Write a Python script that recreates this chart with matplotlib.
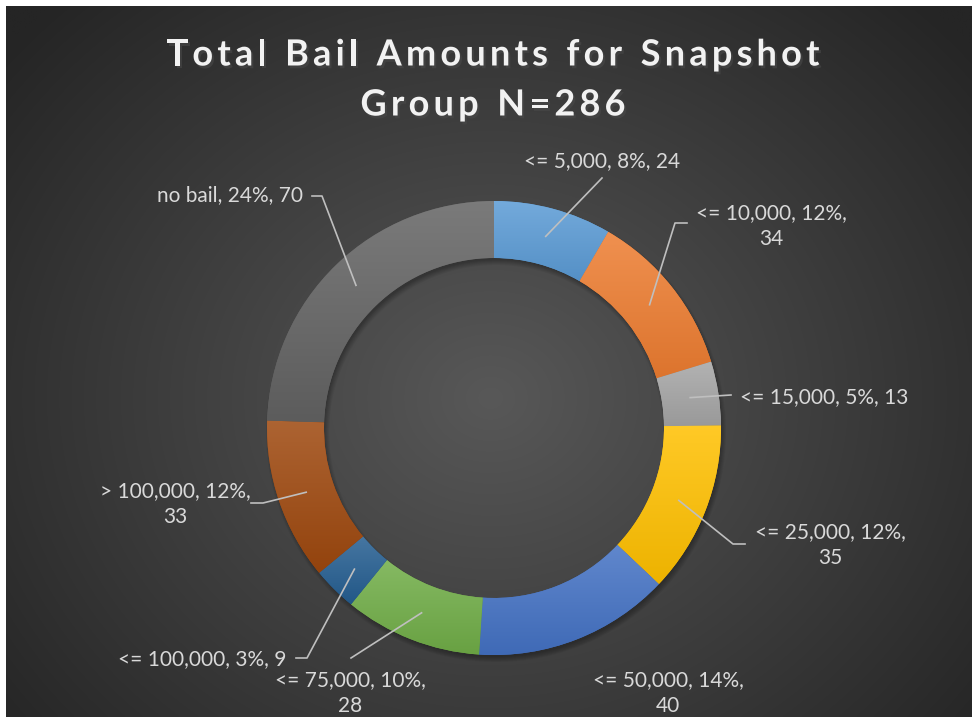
import numpy as np
import matplotlib
matplotlib.use('Agg')
import matplotlib.pyplot as plt
import matplotlib.colors as mcolors
import matplotlib.patheffects as pe

# bail categories and counts
categories = ['<= 5,000', '<= 10,000', '<= 15,000', '<= 25,000', '<= 50,000',
              '<= 75,000', '<= 100,000', '> 100,000', 'no bail']
counts = [24, 34, 13, 35, 40, 28, 9, 33, 70]
colors = ['#5B9BD5', '#ED7D31', '#A5A5A5', '#FFC000', '#4472C4',
          '#70AD47', '#255E91', '#9E480E', '#636363']
title_lines = ['Total Bail Amounts for Snapshot', 'Group N=286']

W, H = 972, 717
# label layout in pixel coords (x, y from top), leader waypoints
label_pos = [(602, 161), (771, 226), (824, 397), (830, 545), (668, 693),
             (350, 693), (202, 659), (175, 504), (230, 195)]
leader_pts = [[(602, 178)],
              [(675, 223), (687, 223)],
              [(731, 395)],
              [(733, 544), (745, 544)],
              None,
              [(351, 658)],
              [(307, 658), (296, 658)],
              [(263, 503), (251, 503)],
              [(322, 196), (312, 196)]]
two_line = [False, True, False, True, True, True, False, True, False]

cx, cy, r_out, r_in = 494, 428, 227, 170

fig = plt.figure(figsize=(W / 100, H / 100), dpi=100)
fig.patch.set_facecolor('white')

# background with radial gradient
bg = fig.add_axes([6 / W, 0, 1 - 6 / W, 1 - 6 / H])
bg.set_axis_off()
yy, xx = np.mgrid[0:300, 0:400]
d = np.sqrt(((xx - 200) / 260) ** 2 + ((yy - 165) / 230) ** 2)
d = np.clip(d, 0, 1)
c_in = np.array([0x58, 0x58, 0x58]) / 255
c_out = np.array([0x25, 0x25, 0x25]) / 255
img = c_in[None, None, :] * (1 - d[..., None]) + c_out[None, None, :] * d[..., None]
bg.imshow(img, aspect='auto', extent=[0, 1, 0, 1], interpolation='bilinear')

ax = fig.add_axes([0, 0, 1, 1])
ax.set_axis_off()
wedges, _ = ax.pie(counts, colors=colors, startangle=90, counterclock=False,
                   radius=r_out, center=(cx, H - cy),
                   wedgeprops=dict(width=r_out - r_in, linewidth=0))
ax.set_xlim(0, W)
ax.set_ylim(0, H)
ax.set_aspect('equal')
ax.patch.set_alpha(0)

# soft shadow for the ring
for k in range(6):
    sh = matplotlib.patches.Wedge((cx + 2, H - cy - 4), r_out + 3 - k, 0, 360,
                                  width=r_out - r_in + 6 - 2 * k,
                                  facecolor='black', alpha=0.05, lw=0, zorder=0)
    ax.add_patch(sh)

# gradient fill per wedge (lighter at top)
for w, c in zip(wedges, colors):
    base = np.array(mcolors.to_rgb(c))
    top = base + (1 - base) * 0.15
    bot = base * 0.93
    bb = w.get_path().get_extents()
    t = np.linspace(0, 1, 100)[:, None]
    grad = top[None, :] * (1 - t) + bot[None, :] * t
    grad = np.repeat(grad[:, None, :], 2, axis=1)
    im = ax.imshow(grad, extent=[bb.x0, bb.x1, bb.y0, bb.y1], aspect='auto',
                   zorder=2, interpolation='bilinear')
    im.set_clip_path(w)
    w.set_zorder(1)
ax.set_xlim(0, W)
ax.set_ylim(0, H)

total = sum(counts)
angle = 90.0
txt_col = '#D9D9D9'
for i, (cat, n) in enumerate(zip(categories, counts)):
    span = n / total * 360
    mid = np.deg2rad(angle - span / 2)
    angle -= span
    r_mid = (r_out + r_in) / 2
    sx, sy = cx + r_mid * np.cos(mid), (H - cy) + r_mid * np.sin(mid)
    pct = int(round(n / total * 100))
    if two_line[i]:
        lab = '%s, %d%%,\n%d' % (cat, pct, n)
    else:
        lab = '%s, %d%%, %d' % (cat, pct, n)
    tx, ty = label_pos[i]
    ax.text(tx, H - ty, lab, ha='center', va='center', color=txt_col,
            fontsize=15, family='Lato', linespacing=1.35, zorder=5)
    if leader_pts[i] is not None:
        xs = [sx] + [p[0] for p in leader_pts[i]]
        ys = [sy] + [H - p[1] for p in leader_pts[i]]
        ax.plot(xs, ys, color='#BFBFBF', lw=1.2, zorder=4)

# title, drawn glyph by glyph to mimic the wide letter spacing
renderer = fig.canvas.get_renderer()
shadow = [pe.withSimplePatchShadow(offset=(1.5, -2), alpha=0.6)]
tsize = 26
for line, ly in zip(title_lines, [55, 105]):
    track = 4.2
    widths = []
    for ch in line:
        t = fig.text(0, 0, ch if ch != ' ' else 'n', fontsize=tsize,
                     fontweight='bold', family='Lato')
        wpx = t.get_window_extent(renderer).width
        t.remove()
        widths.append(wpx * (0.5 if ch == ' ' else 1.0))
    total_w = sum(widths) + track * (len(line) - 1)
    x = 493 - total_w / 2
    for ch, wpx in zip(line, widths):
        if ch != ' ':
            fig.text(x / W, 1 - ly / H, ch, ha='left', va='center',
                     color='#F2F2F2', fontsize=tsize, fontweight='bold',
                     family='Lato', path_effects=shadow)
        x += wpx + track

fig.savefig('out.png', dpi=100, facecolor=fig.get_facecolor())
